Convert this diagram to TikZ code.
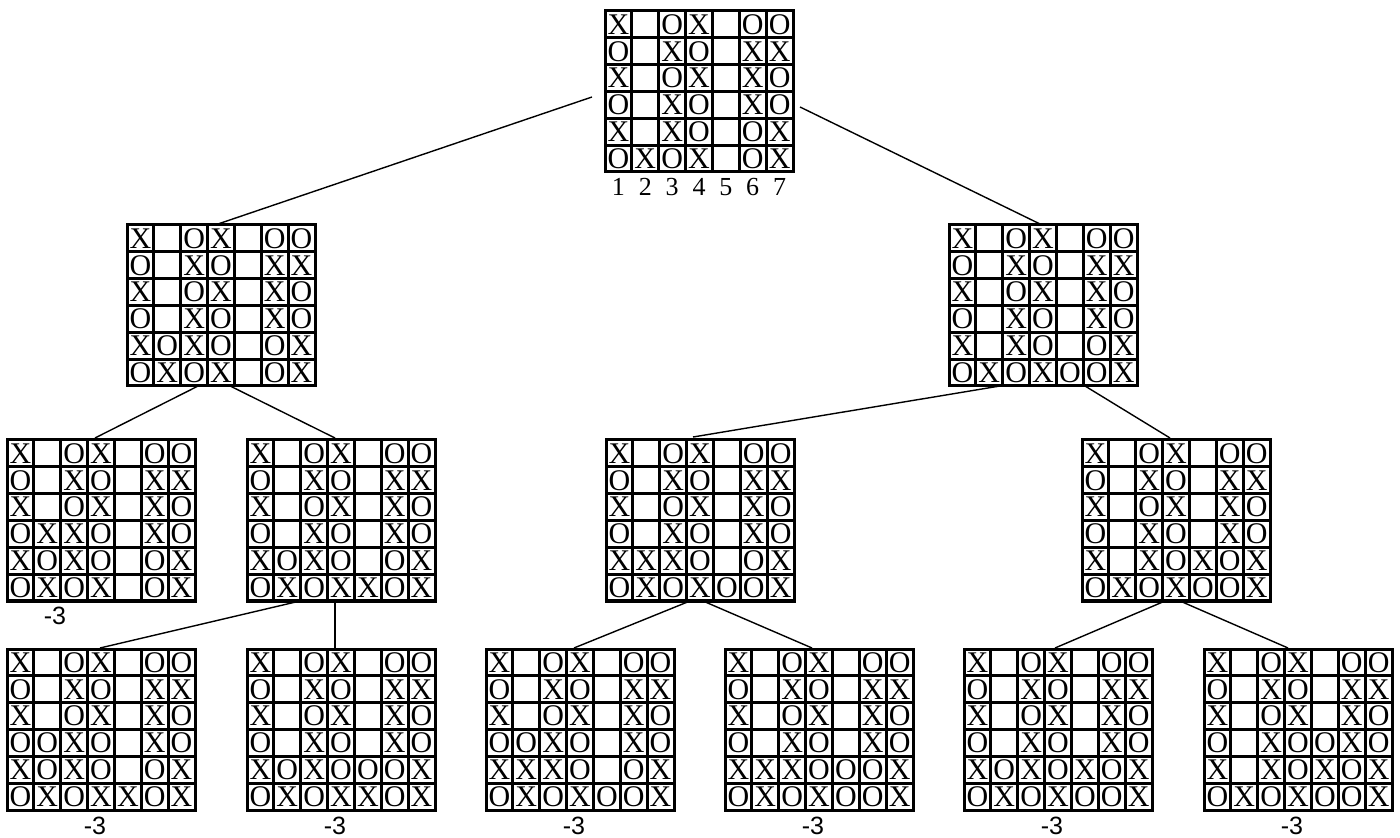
\documentclass[tikz,border=0pt]{standalone}
\usepackage{fontspec}
\setmainfont{Liberation Serif}
\newfontfamily\labsans{Liberation Sans}
\pgfdeclarelayer{bg}
\pgfsetlayers{bg,main}
\newcommand\cellX{X}
\newcommand\cellO{O}
\newcommand\cellE{}
\tikzset{
 boardbg/.style={rectangle, fill=black, draw=black, line width=1.5pt, minimum width=94pt, minimum height=80.5pt, inner sep=0pt, outer sep=0pt},
 cellfill/.style={fill=white},
 cell/.style={inner sep=0pt, font=\fontsize{15}{15}\selectfont},
 colnum/.style={inner sep=0pt, font=\fontsize{13}{13}\selectfont},
 score/.style={inner sep=0pt, font=\labsans\fontsize{12.5}{12.5}\selectfont},
 conn/.style={line width=0.7pt},
 connthick/.style={line width=1.4pt},
}
\newcommand\drawboard[4]{%
 \node[boardbg] (#1) at ({#2+94},{#3+80.5}) {};
 \foreach \row [count=\ri] in {#4} {
  \foreach \cc [count=\ci] in \row {
   \fill[cellfill] ({#2+(\ci-1)*26.857+1.5},{#3+(\ri-1)*26.833+1.5}) rectangle ++(23.857,23.833);
   \node[cell] (#1-\ri-\ci) at ({#2+(\ci-0.5)*26.857},{#3+(\ri-0.5)*26.833}) {\csname cell\cc\endcsname};
  }
 }
}
\begin{document}
\begin{tikzpicture}[x=0.5pt,y=-0.5pt]
\useasboundingbox (0,0) rectangle (1400,838);
\drawboard{root}{605}{11}{{X,E,O,X,E,O,O},{O,E,X,O,E,X,X},{X,E,O,X,E,X,O},{O,E,X,O,E,X,O},{X,E,X,O,E,O,X},{O,X,O,X,E,O,X}}
\foreach \i in {1,...,7} \node[colnum] (num\i) at ({605+(\i-0.5)*26.857},187) {\i};
\drawboard{L}{127}{225}{{X,E,O,X,E,O,O},{O,E,X,O,E,X,X},{X,E,O,X,E,X,O},{O,E,X,O,E,X,O},{X,O,X,O,E,O,X},{O,X,O,X,E,O,X}}
\drawboard{R}{949}{225}{{X,E,O,X,E,O,O},{O,E,X,O,E,X,X},{X,E,O,X,E,X,O},{O,E,X,O,E,X,O},{X,E,X,O,E,O,X},{O,X,O,X,O,O,X}}
\drawboard{A}{7}{440}{{X,E,O,X,E,O,O},{O,E,X,O,E,X,X},{X,E,O,X,E,X,O},{O,X,X,O,E,X,O},{X,O,X,O,E,O,X},{O,X,O,X,E,O,X}}
\drawboard{B}{247}{440}{{X,E,O,X,E,O,O},{O,E,X,O,E,X,X},{X,E,O,X,E,X,O},{O,E,X,O,E,X,O},{X,O,X,O,E,O,X},{O,X,O,X,X,O,X}}
\drawboard{C}{606}{440}{{X,E,O,X,E,O,O},{O,E,X,O,E,X,X},{X,E,O,X,E,X,O},{O,E,X,O,E,X,O},{X,X,X,O,E,O,X},{O,X,O,X,O,O,X}}
\drawboard{D}{1082}{440}{{X,E,O,X,E,O,O},{O,E,X,O,E,X,X},{X,E,O,X,E,X,O},{O,E,X,O,E,X,O},{X,E,X,O,X,O,X},{O,X,O,X,O,O,X}}
\drawboard{E}{7}{649}{{X,E,O,X,E,O,O},{O,E,X,O,E,X,X},{X,E,O,X,E,X,O},{O,O,X,O,E,X,O},{X,O,X,O,E,O,X},{O,X,O,X,X,O,X}}
\drawboard{F}{247}{649}{{X,E,O,X,E,O,O},{O,E,X,O,E,X,X},{X,E,O,X,E,X,O},{O,E,X,O,E,X,O},{X,O,X,O,O,O,X},{O,X,O,X,X,O,X}}
\drawboard{G}{486}{649}{{X,E,O,X,E,O,O},{O,E,X,O,E,X,X},{X,E,O,X,E,X,O},{O,O,X,O,E,X,O},{X,X,X,O,E,O,X},{O,X,O,X,O,O,X}}
\drawboard{H}{725}{649}{{X,E,O,X,E,O,O},{O,E,X,O,E,X,X},{X,E,O,X,E,X,O},{O,E,X,O,E,X,O},{X,X,X,O,O,O,X},{O,X,O,X,O,O,X}}
\drawboard{I}{964}{649}{{X,E,O,X,E,O,O},{O,E,X,O,E,X,X},{X,E,O,X,E,X,O},{O,E,X,O,E,X,O},{X,O,X,O,X,O,X},{O,X,O,X,O,O,X}}
\drawboard{J}{1204}{649}{{X,E,O,X,E,O,O},{O,E,X,O,E,X,X},{X,E,O,X,E,X,O},{O,E,X,O,O,X,O},{X,E,X,O,X,O,X},{O,X,O,X,O,O,X}}
\node[score] (sA) at (55,616) {-3};
\node[score] (sE) at (95,826) {-3};
\node[score] (sF) at (335,826) {-3};
\node[score] (sG) at (574,826) {-3};
\node[score] (sH) at (813,826) {-3};
\node[score] (sI) at (1052,826) {-3};
\node[score] (sJ) at (1292,826) {-3};
\begin{pgfonlayer}{bg}
\draw[conn] ([shift={(-13,5.5)}]root.west) -- ([shift={(-3,-1)}]L.north);
\draw[conn] ([shift={(7,15.5)}]root.east) -- ([shift={(-3,-1)}]R.north);
\draw[conn] ([shift={(-7,-8)}]L.south) -- ([shift={(-6,-2)}]A.north);
\draw[conn] ([shift={(-7,-8)}]L.south) -- ([shift={(-6,-2)}]B.north);
\draw[conn] ([shift={(-43,0)}]R.south) -- ([shift={(-7,-3)}]C.north);
\draw[conn] ([shift={(42,0)}]R.south) -- ([shift={(-6,-2)}]D.north);
\draw[conn] ([shift={(-41,0)}]B.south) -- ([shift={(-1,-1)}]E.north);
\draw[connthick] ([shift={(-6,0)}]B.south) -- ([shift={(-6,0)}]F.north);
\draw[conn] ([shift={(-10,0)}]C.south) -- ([shift={(-6,-1)}]G.north);
\draw[conn] ([shift={(3,0)}]C.south) -- ([shift={(-7,-1)}]H.north);
\draw[conn] ([shift={(-11,0)}]D.south) -- ([shift={(-3,-1)}]I.north);
\draw[conn] ([shift={(4,0)}]D.south) -- ([shift={(-10,-1)}]J.north);
\end{pgfonlayer}
\end{tikzpicture}
\end{document}
